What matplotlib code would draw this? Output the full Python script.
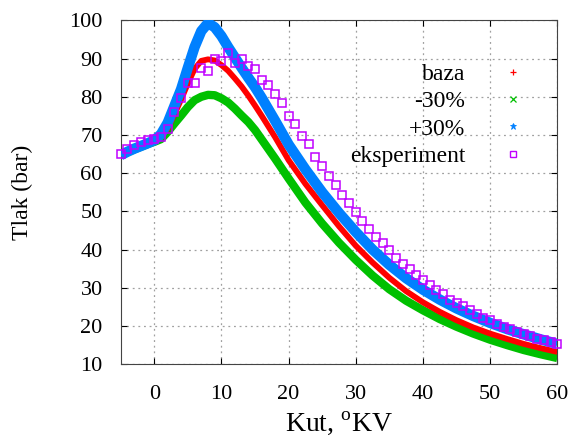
import matplotlib
matplotlib.use('Agg')
import matplotlib.pyplot as plt
from matplotlib.lines import Line2D

# Simulated pressure curves (crank angle in deg, pressure in bar)
sim_kut = [-5, -4, -3, -2, -1, 0, 1, 2, 3, 4, 5, 6, 7, 8, 9, 10, 11, 12, 13,
           14, 15, 16, 17, 18, 19, 20, 22.5, 25, 27.5, 30, 32.5, 35, 37.5,
           40, 42.5, 45, 47.5, 50, 52.5, 55, 57.5, 60]
tlak_baza = [64.7, 65.5, 66.2, 66.9, 67.6, 68.3, 69.5, 71.6, 75.4, 79.3, 83.5,
             87.3, 89.4, 89.8, 89.5, 88.3, 86.8, 84.8, 82.7, 80.3, 77.7, 75.0,
             72.2, 69.4, 66.4, 63.4, 57.2, 51.6, 46.1, 41.0, 36.6, 32.6, 29.1,
             26.2, 23.7, 21.5, 19.6, 18.0, 16.6, 15.3, 14.2, 13.2]
tlak_minus30 = [64.7, 65.5, 66.2, 66.9, 67.6, 68.2, 68.9, 70.8, 73.0, 75.1,
                77.3, 79.1, 80.0, 80.5, 80.4, 79.6, 78.5, 76.9, 75.1, 73.4,
                71.3, 68.8, 66.3, 63.8, 61.2, 58.6, 52.3, 46.8, 41.8, 37.3,
                33.2, 29.6, 26.6, 24.1, 21.8, 19.8, 18.0, 16.4, 15.0, 13.7,
                12.6, 11.6]
tlak_plus30 = [64.7, 65.6, 66.4, 67.1, 67.8, 68.6, 70.2, 73.2, 77.6, 82.0,
               87.6, 93.0, 97.2, 99.3, 98.2, 95.9, 93.0, 90.3, 87.6, 85.0,
               82.5, 79.7, 76.7, 73.7, 70.6, 67.5, 61.0, 55.0, 49.6, 44.6,
               40.0, 36.0, 32.5, 29.5, 26.9, 24.6, 22.6, 20.8, 19.2, 17.8,
               16.5, 15.3]

# Measured pressure, one point per degree
exp_kut = list(range(-5, 61))
tlak_exp = [64.9, 66.4, 67.5, 68.2, 68.6, 68.9, 69.5, 71.5, 76.0, 79.8,
            83.6, 83.6, 87.5, 86.7, 90.0, 89.3, 91.5, 88.9, 90.0, 88.0,
            87.4, 84.3, 83.2, 80.6, 78.5, 75.0, 72.8, 69.7, 67.6, 64.3,
            61.9, 59.3, 57.0, 54.3, 52.2, 49.8, 47.5, 45.5, 43.3, 41.6,
            39.8, 37.9, 36.3, 34.9, 33.3, 32.0, 30.7, 29.4, 28.3, 26.9,
            25.9, 25.2, 24.1, 23.0, 22.0, 21.5, 20.6, 19.8, 19.2, 18.5,
            17.8, 17.3, 16.7, 16.3, 15.8, 15.4]

labels = ['baza', '-30%', '+30%', 'eksperiment']
C_RED = '#ff0000'
C_GREEN = '#00c000'
C_BLUE = '#0080ff'
C_PURPLE = '#c000ff'

plt.rcParams['font.family'] = ['Liberation Serif', 'DejaVu Serif']
plt.rcParams['mathtext.fontset'] = 'custom'
plt.rcParams['mathtext.rm'] = 'Liberation Serif'

fig = plt.figure(figsize=(5.73, 4.43), dpi=100)
ax = fig.add_axes([0.2106, 0.178, 0.762, 0.776])

ax.plot(sim_kut, tlak_baza, color=C_RED, lw=4.2, solid_capstyle='butt', zorder=3)
ax.plot(sim_kut, tlak_minus30, color=C_GREEN, lw=6, solid_capstyle='butt', zorder=2)
ax.plot(sim_kut, tlak_plus30, color=C_BLUE, lw=7.5, solid_capstyle='butt', zorder=4)
ax.plot(exp_kut, tlak_exp, ls='none', marker='s', ms=5.2, mfc='none',
        mec=C_PURPLE, mew=1.1, zorder=5, clip_on=False)

ax.set_xlim(-5, 60)
ax.set_ylim(10, 100)
ax.set_xticks(range(0, 61, 10))
ax.set_yticks(range(10, 101, 10))
ax.tick_params(direction='in', length=4, width=0.8, top=True, right=True,
               labelsize=16, pad=15)
ax.tick_params(axis='y', pad=13)
ax.grid(True, color='#a0a0a0', ls=(0, (1.5, 3)), lw=0.9)
for s in ax.spines.values():
    s.set_color('#444444')

ax.set_xlabel('Kut, $^{\\rm o}$KV', fontsize=20, labelpad=4)
ax.set_ylabel('Tlak (bar)', fontsize=17, labelpad=26)

handles = [
    Line2D([], [], ls='none', marker='+', color=C_RED, ms=5, mew=0.9),
    Line2D([], [], ls='none', marker='x', color=C_GREEN, ms=4, mew=0.9),
    Line2D([], [], ls='none', marker='*', color=C_BLUE, ms=5, mew=0.6),
    Line2D([], [], ls='none', marker='s', mfc='none', mec=C_PURPLE, ms=4, mew=1),
]
leg = ax.legend(handles, labels, loc='upper right', bbox_to_anchor=(0.995, 0.93),
                frameon=False, markerfirst=False, fontsize=17,
                handlelength=2, handletextpad=1.0, labelspacing=0.25,
                borderpad=0.3)
leg.set_zorder(10)

fig.savefig('out.png', dpi=100)
